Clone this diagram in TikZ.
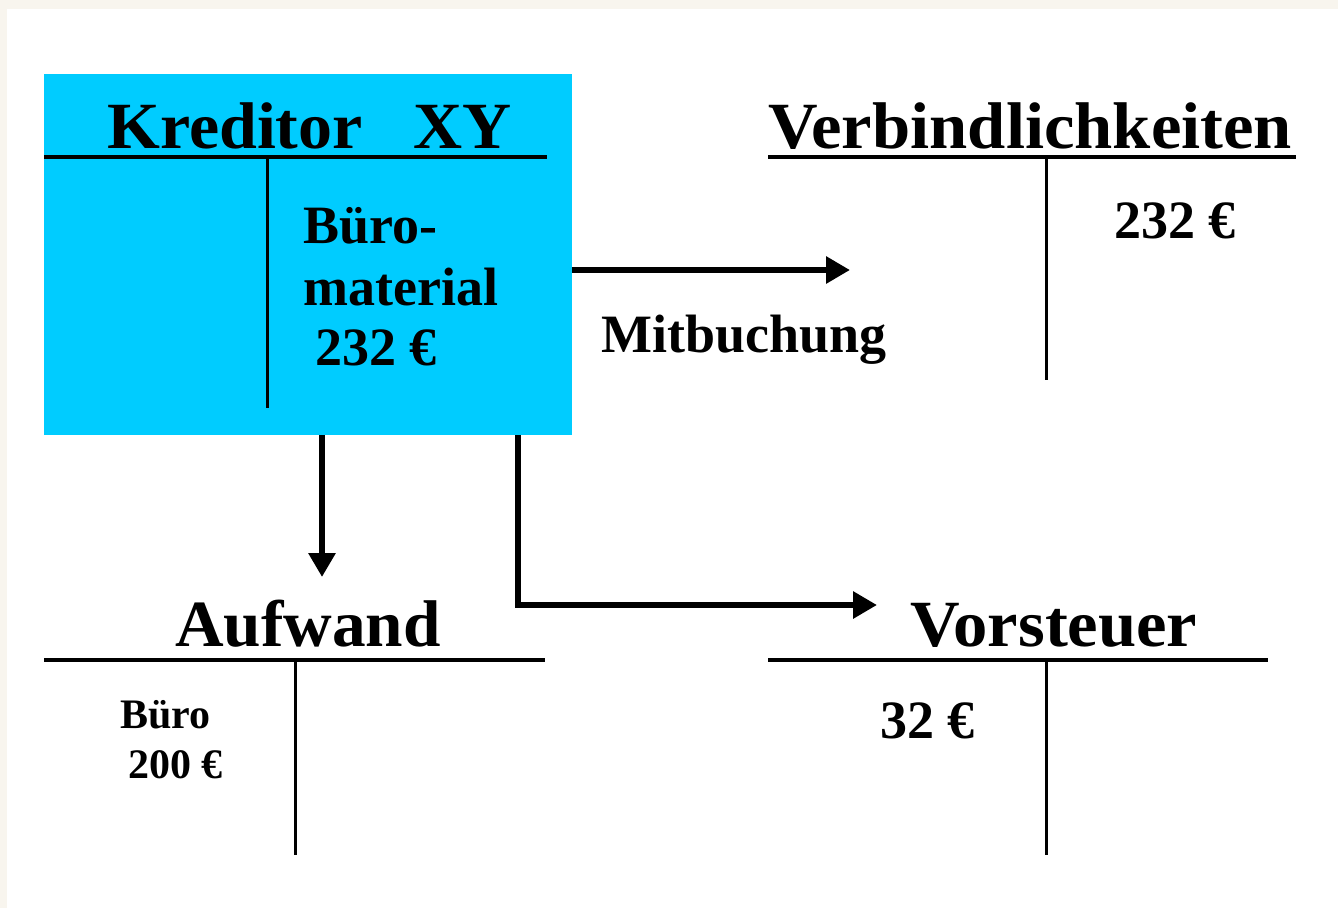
\documentclass[tikz,border=0pt]{standalone}
\usepackage{fontspec}
\setmainfont{Liberation Serif}
\usetikzlibrary{arrows.meta}
\definecolor{beige}{HTML}{F8F5EE}
\definecolor{kblue}{HTML}{00CCFF}
\tikzset{
  lbl/.style={inner sep=0pt, anchor=base west, font=\bfseries},
  hline/.style={line width=4pt},
  vline/.style={line width=3pt},
  flow/.style={line width=6pt, -{Triangle[length=24pt,width=26pt]}},
}
\begin{document}
\begin{tikzpicture}[x=1pt,y=-1pt]
\fill[beige] (0,0) rectangle (1338,908);
\fill[white] (7,9) rectangle (1338,908);
\useasboundingbox (0,0) rectangle (1338,908);
% blue account
\node[fill=kblue, minimum width=528pt, minimum height=361pt, inner sep=0pt, anchor=north west] (kbox) at (44,74) {};
\node[lbl, font=\bfseries\fontsize{66}{66}\selectfont] (ktitle) at (107,148) {\scalebox{1.03}[1]{Kreditor\hspace{0.75em}XY}};
\coordinate (kl) at (44,157); \coordinate (kr) at (547,157);
\coordinate (kt) at (267,157); \coordinate (kb) at (267,408);
\draw[hline] (kl) -- (kr);
\draw[vline] (kt) -- (kb);
\node[lbl, font=\bfseries\fontsize{54}{54}\selectfont] (kb1) at (303,243) {Büro-};
\node[lbl, font=\bfseries\fontsize{54}{54}\selectfont] (kb2) at (303,305) {material};
\node[lbl, font=\bfseries\fontsize{54}{54}\selectfont] (kb3) at (315,365) {232 €};
% Verbindlichkeiten
\node[lbl, font=\bfseries\fontsize{66}{66}\selectfont] (vtitle) at (768,148) {\scalebox{1.04}[1]{Verbindlichkeiten}};
\coordinate (vl) at (768,157); \coordinate (vr) at (1296,157);
\coordinate (vt) at (1046,157); \coordinate (vb) at (1046,380);
\draw[hline] (vl) -- (vr);
\draw[vline] (vt) -- (vb);
\node[lbl, font=\bfseries\fontsize{54}{54}\selectfont] (v1) at (1114,238) {232 €};
% Aufwand
\node[lbl, font=\bfseries\fontsize{66}{66}\selectfont] (atitle) at (175,646) {\scalebox{1.02}[1]{Aufwand}};
\coordinate (al) at (44,660); \coordinate (ar) at (545,660);
\coordinate (at) at (295,660); \coordinate (ab) at (295,855);
\draw[hline] (al) -- (ar);
\draw[vline] (at) -- (ab);
\node[lbl, font=\bfseries\fontsize{42}{42}\selectfont] (a1) at (120,728) {Büro};
\node[lbl, font=\bfseries\fontsize{42}{42}\selectfont] (a2) at (128,778) {200 €};
% Vorsteuer
\node[lbl, font=\bfseries\fontsize{66}{66}\selectfont] (stitle) at (910,646) {\scalebox{1.04}[1]{Vorsteuer}};
\coordinate (sl) at (768,660); \coordinate (sr) at (1268,660);
\coordinate (st) at (1046,660); \coordinate (sb) at (1046,855);
\draw[hline] (sl) -- (sr);
\draw[vline] (st) -- (sb);
\node[lbl, font=\bfseries\fontsize{54}{54}\selectfont] (s1) at (880,738) {32 €};
% arrows
\coordinate (m1) at (572,270); \coordinate (m2) at (850,270);
\draw[flow] (m1) -- (m2);
\node[lbl, font=\bfseries\fontsize{54}{54}\selectfont] (mit) at (601,352) {Mitbuchung};
\coordinate (d1) at (322,435); \coordinate (d2) at (322,577);
\draw[flow] (d1) -- (d2);
\coordinate (e1) at (518,435); \coordinate (e2) at (518,605); \coordinate (e3) at (877,605);
\draw[flow, line join=miter] (e1) -- (e2) -- (e3);
\end{tikzpicture}
\end{document}
